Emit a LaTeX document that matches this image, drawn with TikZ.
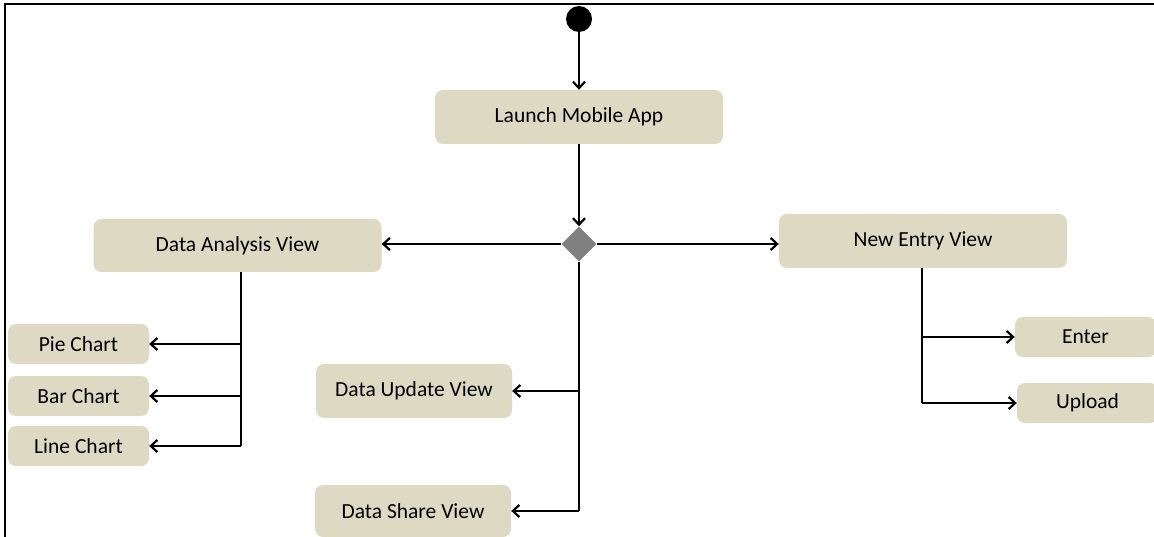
\documentclass[tikz,border=0pt]{standalone}
\usepackage{fontspec}
\setmainfont{Carlito}
\usetikzlibrary{shapes.geometric,arrows.meta}
\definecolor{boxtan}{RGB}{221,217,195}
\definecolor{decgray}{RGB}{128,128,128}
\tikzset{
  actbox/.style={rectangle, rounded corners=8pt, fill=boxtan, draw=none,
    inner sep=0pt, font=\fontsize{21.5}{24}\selectfont, text=black},
  bigbox/.style={actbox, minimum width=288pt, minimum height=54pt},
  midbox/.style={actbox, minimum width=196pt, minimum height=54pt},
  smallbox/.style={actbox, minimum width=141pt, minimum height=40pt},
  flow/.style={line width=2.2pt, -{Straight Barb[length=6.5pt,width=12pt,line width=2.2pt]}},
  plainline/.style={line width=2.2pt},
}
\begin{document}
\begin{tikzpicture}[x=1pt,y=-1pt]
\useasboundingbox (0,0) rectangle (1154,537);
\clip (0,0) rectangle (1154,537);

% frame
\draw[line width=2.2pt] (1154,4) -- (5,4) -- (5,537);

% start and decision
\node[circle, fill=black, minimum size=26pt, inner sep=0pt] (start) at (579,19) {};
\node[diamond, fill=decgray, minimum width=35pt, minimum height=35pt, inner sep=0pt] (dec) at (579,244) {};

% activities
\node[bigbox] (launch) at (579,117) {Launch Mobile App};
\node[bigbox, minimum height=53pt] (dav) at (237.5,245.5) {Data Analysis View};
\node[bigbox] (nev) at (923,241) {New Entry View};
\node[smallbox] (pie) at (78.5,344) {Pie Chart};
\node[smallbox] (bar) at (78.5,396) {Bar Chart};
\node[smallbox] (linec) at (78.5,446) {Line Chart};
\node[midbox] (dup) at (414,391) {Data Update View};
\node[midbox, minimum height=52pt] (dsv) at (413,511) {Data Share View};
\node[smallbox] (enter) at (1085.5,337) {Enter};
\node[smallbox] (upload) at (1087.5,403) {Upload};

% bus points
\coordinate (abus) at (241,272);
\coordinate (ebus) at (922,268);

% main flow
\draw[flow] (start) -- (launch);
\draw[flow] (launch) -- (dec);
\draw[flow] (dec.west) -- (dec.west -| dav.east);
\draw[flow] (dec.east) -- (dec.east -| nev.west);

% analysis branch
\draw[plainline] (abus) -- (abus |- linec);
\draw[flow] (abus |- pie) -- (pie);
\draw[flow] (abus |- bar) -- (bar);
\draw[flow] (abus |- linec) -- (linec);

% update and share branch
\draw[plainline] (dec.south) -- (dec.south |- dsv);
\draw[flow] (dec.south |- dup) -- (dup);
\draw[flow] (dec.south |- dsv) -- (dsv);

% entry branch
\draw[plainline] (ebus) -- (ebus |- upload);
\draw[flow] (ebus |- enter) -- (enter);
\draw[flow] (ebus |- upload) -- (upload);
\end{tikzpicture}
\end{document}
